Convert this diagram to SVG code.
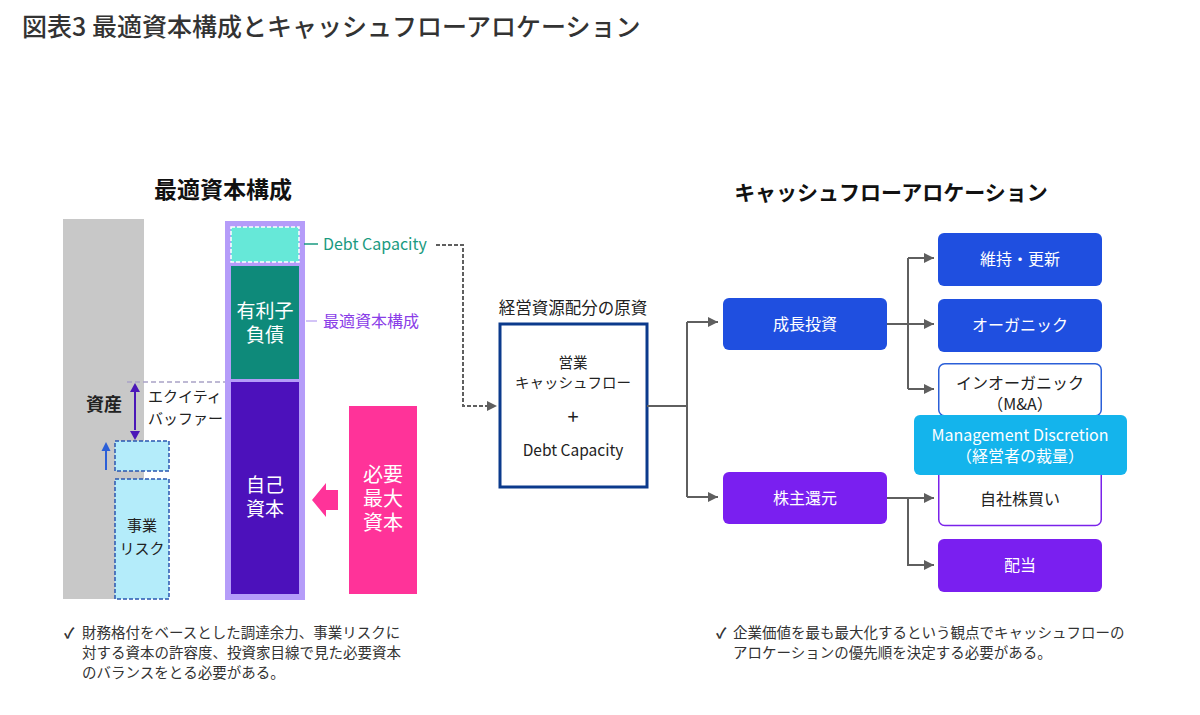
<svg xmlns="http://www.w3.org/2000/svg" width="1200" height="715" viewBox="0 0 1200 715">
<defs>
<marker id="ah" viewBox="0 0 10 10" refX="10" refY="5" markerWidth="10" markerHeight="10" markerUnits="userSpaceOnUse" orient="auto">
<path d="M0,0 L10,5 L0,10 Z" fill="#5f5f5f"/>
</marker>
<style>
text{font-family:"Noto Sans CJK JP","Noto Sans",sans-serif;}
.t{fill:#333;}
.h{font-weight:700;fill:#111;}
.w{fill:#fff;}
.c{text-anchor:middle;}
.conn{stroke:#5f5f5f;stroke-width:2;fill:none;}
</style>
</defs>
<rect width="1200" height="715" fill="#fff"/>
<text x="22" y="36" font-size="25" font-weight="500" class="t">図表3 最適資本構成とキャッシュフローアロケーション</text>

<g id="left-heading"><text x="223" y="198" font-size="23" class="h c">最適資本構成</text></g>
<g id="right-heading"><text x="891" y="200" font-size="21" class="h c">キャッシュフローアロケーション</text></g>

<g id="asset-bar">
<rect x="63" y="219" width="81" height="380" fill="#c8c8c8"/>
<text x="104" y="411" font-size="18" font-weight="700" fill="#222" class="c">資産</text>
</g>

<g id="equity-buffer">
<line x1="127" y1="382" x2="230" y2="382" stroke="#a9a2c6" stroke-width="1.5" stroke-dasharray="5,3"/>
<line x1="135" y1="392" x2="135" y2="430" stroke="#4b17b8" stroke-width="2"/>
<path d="M130,392 L135,383 L140,392 Z" fill="#4b17b8"/>
<path d="M130,431 L135,440 L140,431 Z" fill="#4b17b8"/>
<text x="148" y="402" font-size="15" fill="#222">エクイティ</text>
<text x="148" y="424" font-size="15" fill="#222">バッファー</text>
</g>

<g id="risk-buffer">
<line x1="106" y1="470" x2="106" y2="450" stroke="#2b5fd8" stroke-width="2"/>
<path d="M101.5,451 L106,442 L110.5,451 Z" fill="#2b5fd8"/>
<rect x="115" y="441" width="54" height="30" fill="#b4ecfa" stroke="#2a55b0" stroke-width="1.5" stroke-dasharray="4,2"/>
</g>

<g id="business-risk">
<rect x="115" y="479" width="54" height="120" fill="#b4ecfa" stroke="#2a55b0" stroke-width="1.5" stroke-dasharray="4,2"/>
<text x="142" y="531" font-size="15" fill="#222" class="c">事業</text>
<text x="142" y="554" font-size="15" fill="#222" class="c">リスク</text>
</g>

<g id="optimal-structure">
<rect x="225" y="221" width="80" height="379" fill="#b59cf9"/>
<rect x="231" y="227" width="68" height="35" fill="#66e8d8" stroke="#fff" stroke-width="1.5" stroke-dasharray="4,2"/>
<rect x="231" y="266" width="68" height="113" fill="#0e8a7a"/>
<text x="265" y="318" font-size="19" class="w c">有利子</text>
<text x="265" y="342" font-size="19" class="w c">負債</text>
<rect x="231" y="382" width="68" height="212" fill="#4c11bb"/>
<text x="265" y="492" font-size="19" class="w c">自己</text>
<text x="265" y="516" font-size="19" class="w c">資本</text>
</g>

<g id="debt-capacity-label">
<line x1="304" y1="244" x2="318" y2="244" stroke="#1a9a80" stroke-width="1.5"/>
<text x="323" y="249.5" font-size="16" fill="#1a9a80">Debt Capacity</text>
</g>
<g id="optimal-label">
<line x1="306" y1="321" x2="317" y2="321" stroke="#c4b0f5" stroke-width="1.5"/>
<text x="323" y="327" font-size="16" fill="#8a3ee8">最適資本構成</text>
</g>

<g id="required-capital">
<rect x="349" y="406" width="68" height="188" fill="#ff3399"/>
<text x="383" y="482" font-size="20" class="w c">必要</text>
<text x="383" y="506" font-size="20" class="w c">最大</text>
<text x="383" y="530" font-size="20" class="w c">資本</text>
<path d="M312,500 L326,483 L326,490 L338,490 L338,510 L326,510 L326,517 Z" fill="#ff3399"/>
</g>

<g id="note-left">
<text x="64" y="638" font-size="14.5" font-weight="700" class="t">✓</text>
<text x="82" y="638" font-size="14.5" class="t">財務格付をベースとした調達余力、事業リスクに</text>
<text x="82" y="658" font-size="14.5" class="t">対する資本の許容度、投資家目線で見た必要資本</text>
<text x="82" y="678" font-size="14.5" class="t">のバランスをとる必要がある。</text>
</g>

<g id="source-box">
<text x="573" y="314" font-size="16.5" fill="#222" class="c">経営資源配分の原資</text>
<rect x="500" y="324" width="147" height="163" fill="#fff" stroke="#0b3a8c" stroke-width="3"/>
<text x="573" y="368" font-size="14.5" fill="#222" class="c">営業</text>
<text x="573" y="388" font-size="14.5" fill="#222" class="c">キャッシュフロー</text>
<text x="573" y="424" font-size="20" fill="#222" class="c">+</text>
<text x="573" y="456" font-size="15.5" fill="#222" class="c">Debt Capacity</text>
</g>

<g id="growth"><rect x="723" y="298" width="164" height="52" rx="6" fill="#1f4fe0"/><text x="805" y="330" font-size="16" class="w c">成長投資</text></g>
<g id="maintain"><rect x="938" y="233" width="164" height="53" rx="6" fill="#1f4fe0"/><text x="1020" y="265" font-size="16" class="w c">維持・更新</text></g>
<g id="organic"><rect x="938" y="299" width="164" height="53" rx="6" fill="#1f4fe0"/><text x="1020" y="331" font-size="16" class="w c">オーガニック</text></g>
<g id="inorganic"><rect x="938.75" y="363.75" width="162.5" height="52" rx="6" fill="#fff" stroke="#2b5fd8" stroke-width="1.5"/><text x="1020" y="389" font-size="16" fill="#222" class="c">インオーガニック</text><text x="1020" y="410" font-size="16" fill="#222" class="c">（M&amp;A）</text></g>
<g id="buyback"><rect x="938.75" y="460" width="162.5" height="65.5" rx="6" fill="#fff" stroke="#7a22ea" stroke-width="1.5"/><text x="1020" y="505" font-size="16" fill="#222" class="c">自社株買い</text></g>
<g id="discretion"><rect x="914" y="415" width="213" height="60" rx="6" fill="#14b4ec"/><text x="1020" y="441" font-size="16" class="w c">Management Discretion</text><text x="1020" y="462" font-size="16" class="w c">（経営者の裁量）</text></g>
<g id="return"><rect x="723" y="472" width="164" height="52" rx="6" fill="#7a1ff0"/><text x="805" y="504" font-size="16" class="w c">株主還元</text></g>
<g id="dividend"><rect x="938" y="539" width="164" height="53" rx="6" fill="#7a1ff0"/><text x="1020" y="571" font-size="16" class="w c">配当</text></g>

<g id="connectors">
<path d="M436,245 H463 V406 H497" class="conn" stroke-width="1.5" stroke-dasharray="4,2" marker-end="url(#ah)"/>
<path d="M647,406 H687" class="conn"/>
<path d="M687,322 V497" class="conn"/>
<path d="M687,322 H718" class="conn" marker-end="url(#ah)"/>
<path d="M687,497 H718" class="conn" marker-end="url(#ah)"/>
<path d="M887,324 H934" class="conn" marker-end="url(#ah)"/>
<path d="M908,258 V389" class="conn"/>
<path d="M908,258 H934" class="conn" marker-end="url(#ah)"/>
<path d="M908,389 H934" class="conn" marker-end="url(#ah)"/>
<path d="M887,498 H934" class="conn" marker-end="url(#ah)"/>
<path d="M908,498 V565 H934" class="conn" marker-end="url(#ah)"/>
</g>

<g id="note-right">
<text x="716" y="638" font-size="14.5" font-weight="700" class="t">✓</text>
<text x="733" y="638" font-size="14.5" class="t">企業価値を最も最大化するという観点でキャッシュフローの</text>
<text x="733" y="658" font-size="14.5" class="t">アロケーションの優先順を決定する必要がある。</text>
</g>
</svg>
